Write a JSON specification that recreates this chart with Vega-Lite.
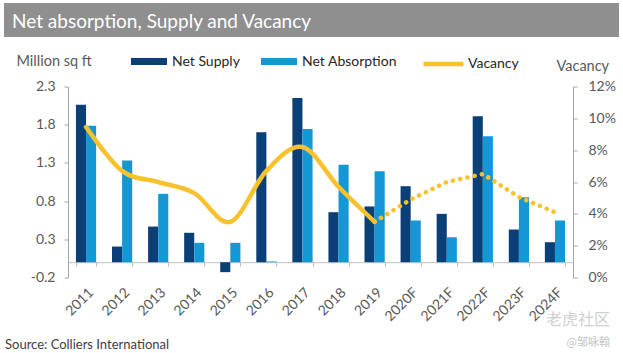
{
  "$schema": "https://vega.github.io/schema/vega-lite/v6.json",
  "padding": {"left": 4, "top": 3, "right": 4, "bottom": 0},
  "background": "white",
  "spacing": 16.5,
  "datasets": {
    "bars": [
      {"year": "2011", "series": "Net Supply", "value": 2.06},
      {"year": "2011", "series": "Net Absorption", "value": 1.785},
      {"year": "2012", "series": "Net Supply", "value": 0.205},
      {"year": "2012", "series": "Net Absorption", "value": 1.33},
      {"year": "2013", "series": "Net Supply", "value": 0.467},
      {"year": "2013", "series": "Net Absorption", "value": 0.895},
      {"year": "2014", "series": "Net Supply", "value": 0.385},
      {"year": "2014", "series": "Net Absorption", "value": 0.254},
      {"year": "2015", "series": "Net Supply", "value": -0.13},
      {"year": "2015", "series": "Net Absorption", "value": 0.254},
      {"year": "2016", "series": "Net Supply", "value": 1.70},
      {"year": "2016", "series": "Net Absorption", "value": 0.01},
      {"year": "2017", "series": "Net Supply", "value": 2.15},
      {"year": "2017", "series": "Net Absorption", "value": 1.745},
      {"year": "2018", "series": "Net Supply", "value": 0.655},
      {"year": "2018", "series": "Net Absorption", "value": 1.275},
      {"year": "2019", "series": "Net Supply", "value": 0.73},
      {"year": "2019", "series": "Net Absorption", "value": 1.19},
      {"year": "2020F", "series": "Net Supply", "value": 0.995},
      {"year": "2020F", "series": "Net Absorption", "value": 0.546},
      {"year": "2021F", "series": "Net Supply", "value": 0.633},
      {"year": "2021F", "series": "Net Absorption", "value": 0.327},
      {"year": "2022F", "series": "Net Supply", "value": 1.91},
      {"year": "2022F", "series": "Net Absorption", "value": 1.65},
      {"year": "2023F", "series": "Net Supply", "value": 0.428},
      {"year": "2023F", "series": "Net Absorption", "value": 0.85},
      {"year": "2024F", "series": "Net Supply", "value": 0.262},
      {"year": "2024F", "series": "Net Absorption", "value": 0.546}
    ],
    "vacancy": [
      {"year": "2011", "series": "Vacancy", "part": "actual", "vacancy": 0.0945},
      {"year": "2012", "series": "Vacancy", "part": "actual", "vacancy": 0.067},
      {"year": "2013", "series": "Vacancy", "part": "actual", "vacancy": 0.060},
      {"year": "2014", "series": "Vacancy", "part": "actual", "vacancy": 0.053},
      {"year": "2015", "series": "Vacancy", "part": "actual", "vacancy": 0.035},
      {"year": "2016", "series": "Vacancy", "part": "actual", "vacancy": 0.067},
      {"year": "2017", "series": "Vacancy", "part": "actual", "vacancy": 0.082},
      {"year": "2018", "series": "Vacancy", "part": "actual", "vacancy": 0.057},
      {"year": "2019", "series": "Vacancy", "part": "actual", "vacancy": 0.035},
      {"year": "2019", "series": "Vacancy", "part": "forecast", "vacancy": 0.035},
      {"year": "2020F", "series": "Vacancy", "part": "forecast", "vacancy": 0.049},
      {"year": "2021F", "series": "Vacancy", "part": "forecast", "vacancy": 0.060},
      {"year": "2022F", "series": "Vacancy", "part": "forecast", "vacancy": 0.065},
      {"year": "2023F", "series": "Vacancy", "part": "forecast", "vacancy": 0.0505},
      {"year": "2024F", "series": "Vacancy", "part": "forecast", "vacancy": 0.041}
    ],
    "header": [{"header": "Net absorption, Supply and Vacancy"}]
  },
  "title": {
    "text": "老虎社区",
    "subtitle": "@邹咏翰",
    "orient": "bottom",
    "anchor": "end",
    "frame": "bounds",
    "offset": -39.5,
    "dx": -9,
    "font": "Noto Sans CJK SC",
    "fontSize": 16,
    "fontWeight": "normal",
    "color": "#cfcfcf",
    "subtitleFont": "Noto Sans CJK SC",
    "subtitleFontSize": 11,
    "subtitleColor": "#c4c4c4",
    "subtitlePadding": 8.5
  },
  "vconcat": [
    {
      "width": 615,
      "height": 34,
      "view": {"fill": "#8f8f8f", "stroke": null},
      "data": {"name": "header"},
      "mark": {"type": "text", "opacity": 0},
      "encoding": {"text": {"field": "header", "type": "nominal"}},
      "title": {
        "text": "Net absorption, Supply and Vacancy",
        "anchor": "start",
        "orient": "top",
        "frame": "group",
        "baseline": "alphabetic",
        "offset": -44,
        "dx": 8,
        "font": "Lato",
        "fontSize": 19,
        "fontWeight": "normal",
        "color": "#ffffff"
      }
    },
    {
      "spacing": 0,
      "hconcat": [
        {
          "width": 1,
          "height": 1,
          "data": {"values": [{}]},
          "mark": {"type": "point", "opacity": 0, "size": 1},
          "encoding": {}
        },
        {
          "width": 505,
          "height": 191,
          "title": {
            "text": "Source: Colliers International",
            "orient": "bottom",
            "anchor": "start",
            "frame": "group",
            "dx": -63,
            "offset": 15,
            "font": "Lato",
            "fontSize": 13,
            "fontWeight": "normal",
            "color": "#404040"
          },
          "layer": [
            {
              "data": {"name": "bars"},
              "mark": {"type": "bar"},
              "encoding": {
                "x": {
                  "field": "year",
                  "type": "nominal",
                  "scale": {"paddingInner": 0.44, "paddingOuter": 0.22},
                  "axis": {
                    "title": null,
                    "labelAngle": -45,
                    "offset": -15.3,
                    "tickBand": "extent",
                    "tickSize": 4,
                    "labelPadding": 19,
                    "domainColor": "#bfbfbf",
                    "tickColor": "#bfbfbf",
                    "labelFontSize": 14,
                    "labelColor": "#595959"
                  }
                },
                "xOffset": {
                  "field": "series",
                  "type": "nominal",
                  "sort": ["Net Supply", "Net Absorption"],
                  "scale": {"paddingInner": 0, "paddingOuter": 0}
                },
                "y": {
                  "field": "value",
                  "type": "quantitative",
                  "scale": {"domain": [-0.2, 2.3], "nice": false, "zero": false},
                  "axis": {
                    "orient": "left",
                    "values": [-0.2, 0.3, 0.8, 1.3, 1.8, 2.3],
                    "format": ".1f",
                    "labelExpr": "replace(datum.label, '−', '-')",
                    "grid": false,
                    "domainColor": "#a6a6a6",
                    "tickColor": "#a6a6a6",
                    "tickSize": 4,
                    "labelPadding": 9,
                    "labelFontSize": 14,
                    "labelColor": "#595959",
                    "title": "Million sq ft",
                    "titleAngle": 0,
                    "titleAlign": "left",
                    "titleBaseline": "middle",
                    "titleX": -52,
                    "titleY": -25,
                    "titleFontSize": 14.5,
                    "titleFontWeight": "normal",
                    "titleColor": "#595959"
                  }
                },
                "color": {
                  "field": "series",
                  "type": "nominal",
                  "scale": {"domain": ["Net Supply", "Net Absorption"], "range": ["#0b3f77", "#1597d4"]},
                  "legend": {
                    "orient": "none",
                    "legendX": 127,
                    "legendY": 40.5,
                    "direction": "horizontal",
                    "title": null,
                    "symbolType": "M-1,-0.2H1V0.2H-1Z",
                    "symbolSize": 1296,
                    "symbolStrokeWidth": 0,
                    "labelFontSize": 14,
                    "labelColor": "#262626",
                    "labelOffset": 5,
                    "columnPadding": 21,
                    "padding": 0
                  }
                }
              }
            },
            {
              "data": {"name": "vacancy"},
              "transform": [{"filter": "datum.part == 'actual'"}],
              "mark": {"type": "line", "strokeWidth": 4.5, "interpolate": "cardinal", "strokeCap": "round"},
              "encoding": {
                "x": {"field": "year", "type": "nominal"},
                "y": {
                  "field": "vacancy",
                  "type": "quantitative",
                  "scale": {"domain": [0, 0.12], "nice": false},
                  "axis": {
                    "orient": "right",
                    "values": [0, 0.02, 0.04, 0.06, 0.08, 0.1, 0.12],
                    "format": ".0%",
                    "grid": false,
                    "domainColor": "#a6a6a6",
                    "tickColor": "#a6a6a6",
                    "tickSize": 4,
                    "labelPadding": 11,
                    "labelFontSize": 14,
                    "labelColor": "#595959",
                    "title": "Vacancy",
                    "titleAngle": 0,
                    "titleAlign": "left",
                    "titleBaseline": "middle",
                    "titleX": -17,
                    "titleY": -20,
                    "titleFontSize": 14.5,
                    "titleFontWeight": "normal",
                    "titleColor": "#595959"
                  }
                },
                "stroke": {
                  "field": "series",
                  "type": "nominal",
                  "scale": {"domain": ["Vacancy"], "range": ["#f8c12d"]},
                  "legend": {
                    "orient": "none",
                    "legendX": 417,
                    "legendY": 38.5,
                    "direction": "horizontal",
                    "title": null,
                    "symbolType": "stroke",
                    "symbolSize": 1600,
                    "symbolStrokeWidth": 4.5,
                    "symbolDash": [1, 0],
                    "labelFontSize": 14,
                    "labelColor": "#262626",
                    "labelOffset": 2,
                    "padding": 0
                  }
                }
              }
            },
            {
              "data": {"name": "vacancy"},
              "transform": [{"filter": "datum.part == 'forecast'"}],
              "mark": {"type": "line", "strokeWidth": 4.5, "strokeDash": [0.1, 7.3], "strokeCap": "round"},
              "encoding": {
                "x": {"field": "year", "type": "nominal"},
                "y": {
                  "field": "vacancy",
                  "type": "quantitative",
                  "scale": {"domain": [0, 0.12], "nice": false},
                  "axis": null
                },
                "stroke": {"field": "series", "type": "nominal"}
              }
            }
          ],
          "resolve": {"scale": {"y": "independent"}}
        }
      ]
    }
  ],
  "config": {
    "view": {"stroke": null},
    "concat": {"spacing": 0},
    "font": "Lato",
    "axis": {"labelFont": "Lato", "titleFont": "Lato"},
    "legend": {"labelFont": "Lato"}
  }
}
